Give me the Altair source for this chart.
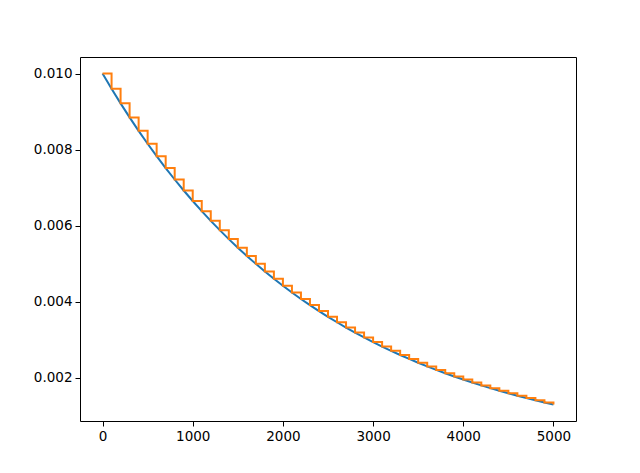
import altair as alt
import pandas as pd

# learning-rate values read at every 100 steps (0..5000)
steps = [i * 100 for i in range(51)]
decay = [0.010000, 0.009600, 0.009216, 0.008847, 0.008493, 0.008154, 0.007828, 0.007514,
         0.007214, 0.006925, 0.006648, 0.006382, 0.006127, 0.005882, 0.005647, 0.005421,
         0.005204, 0.004996, 0.004796, 0.004604, 0.004420, 0.004243, 0.004073, 0.003911,
         0.003754, 0.003604, 0.003460, 0.003321, 0.003189, 0.003061, 0.002939, 0.002821,
         0.002708, 0.002600, 0.002496, 0.002396, 0.002300, 0.002208, 0.002120, 0.002035,
         0.001954, 0.001876, 0.001800, 0.001728, 0.001659, 0.001593, 0.001529, 0.001468,
         0.001409, 0.001353, 0.001299]
stair = list(decay)

x_ticks = [0, 1000, 2000, 3000, 4000, 5000]
y_ticks = [0.002, 0.004, 0.006, 0.008, 0.010]

df_smooth = pd.DataFrame({"step": steps, "lr": decay})
df_stair = pd.DataFrame({"step": steps, "lr": stair})

xs = alt.Scale(domain=[-250, 5250], nice=False, zero=False)
ys = alt.Scale(domain=[0.000864, 0.010435], nice=False, zero=False)

axis_common = dict(
    grid=False, domain=False, tickColor="black", tickSize=5, tickWidth=1,
    labelFont="DejaVu Sans", labelFontSize=13.5, labelColor="black",
    labelPadding=3, title=None,
)

x_enc = alt.X("step:Q", scale=xs,
              axis=alt.Axis(values=x_ticks, format="d", **axis_common))
y_enc = alt.Y("lr:Q", scale=ys,
              axis=alt.Axis(values=y_ticks, format=".3f", **axis_common))

smooth = alt.Chart(df_smooth).mark_line(color="#1f77b4", strokeWidth=2, clip=True).encode(
    x=x_enc, y=y_enc)
staircase = alt.Chart(df_stair).mark_line(color="#ff7f0e", strokeWidth=2,
                                          interpolate="step-after", clip=True).encode(
    x=alt.X("step:Q", scale=xs), y=alt.Y("lr:Q", scale=ys))

chart = alt.layer(smooth, staircase).properties(
    width=496, height=364,
    autosize=alt.AutoSizeParams(type="none"),
    padding={"left": 72, "top": 49, "right": 56, "bottom": 52},
    background="white",
).configure_view(stroke="black", strokeWidth=1)

chart.save("out.html", embed_options={"renderer": "svg", "actions": False})
